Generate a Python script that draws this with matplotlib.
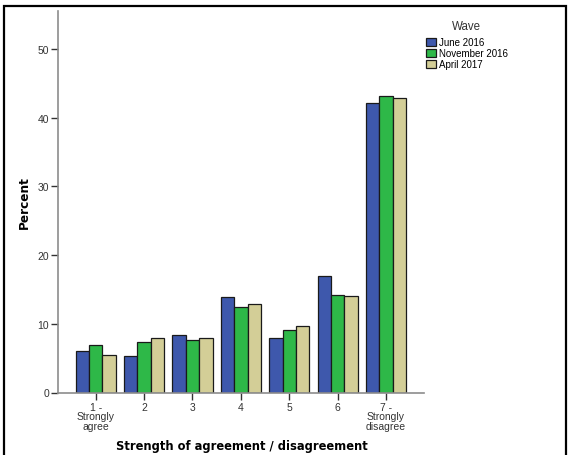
import matplotlib
matplotlib.use("Agg")
import matplotlib.pyplot as plt
import numpy as np
from matplotlib.patches import Rectangle

categories = ["1 -\nStrongly\nagree", "2", "3", "4", "5", "6", "7 -\nStrongly\ndisagree"]
series_names = ["June 2016", "November 2016", "April 2017"]
june_2016 = [6.1, 5.3, 8.3, 13.9, 8.0, 17.0, 42.2]
nov_2016 = [6.9, 7.3, 7.7, 12.5, 9.1, 14.2, 43.1]
apr_2017 = [5.5, 7.9, 8.0, 12.9, 9.7, 14.0, 42.9]
yticks = [0, 10, 20, 30, 40, 50]
colors = ["#3E58AC", "#2EB848", "#D3CE97"]

ARIAL = ["Liberation Sans", "DejaVu Sans"]

W, H = 570, 456
fig = plt.figure(figsize=(W / 100, H / 100), dpi=100)
ax = fig.add_axes([58 / W, 1 - 393.5 / H, (424 - 58) / W, (393.5 - 12.3) / H])

x = np.arange(len(categories))
bw = 0.277
for i, (vals, name, c) in enumerate(zip([june_2016, nov_2016, apr_2017], series_names, colors)):
    ax.bar(x + (i - 1) * bw, vals, width=bw, color=c, edgecolor="#1a1a1a",
           linewidth=0.9, label=name)

ax.set_xlim(-0.78, 6.785)
ax.set_ylim(0, 55.5)
ax.set_xticks(x)
ax.set_xticklabels(categories, fontsize=7.5, color="#333333", linespacing=0.95,
                   family=ARIAL)
ax.set_yticks(yticks)
ax.set_yticklabels([str(t) for t in yticks], fontsize=7.5, color="#333333",
                   family=ARIAL)
ax.tick_params(axis="both", length=5, width=1, color="#333333", pad=1.5)

for s in ["top", "right"]:
    ax.spines[s].set_visible(False)
for s in ["left", "bottom"]:
    ax.spines[s].set_color("#8c8c8c")
    ax.spines[s].set_linewidth(1.2)

ax.set_ylabel("Percent", fontsize=8.7, fontweight="bold")
ax.yaxis.set_label_coords((31 - 58) / (424 - 58), (393.5 - 203) / (393.5 - 12.3))
fig.text(242 / W, 1 - 446.5 / H, "Strength of agreement / disagreement",
         fontsize=8.3, fontweight="bold", ha="center", va="center")

leg = fig.legend(loc="upper left", bbox_to_anchor=(422 / W, 1 - 17 / H),
                 title="Wave", frameon=False,
                 prop={"family": ARIAL, "size": 7.0},
                 handlelength=1.0, handleheight=0.8, handletextpad=0.35,
                 labelspacing=0.1, borderaxespad=0)
leg.get_title().set_color("#333333")
leg.get_title().set_fontsize(8.3)
leg.get_title().set_family(ARIAL)
leg._legend_box.sep = 4

fig.patches.append(Rectangle((4 / W, -0.05), (566 - 4) / W, 1 - 7 / H + 0.05,
                             transform=fig.transFigure, fill=False,
                             edgecolor="black", linewidth=1.6))

fig.savefig("out.png", dpi=100)
